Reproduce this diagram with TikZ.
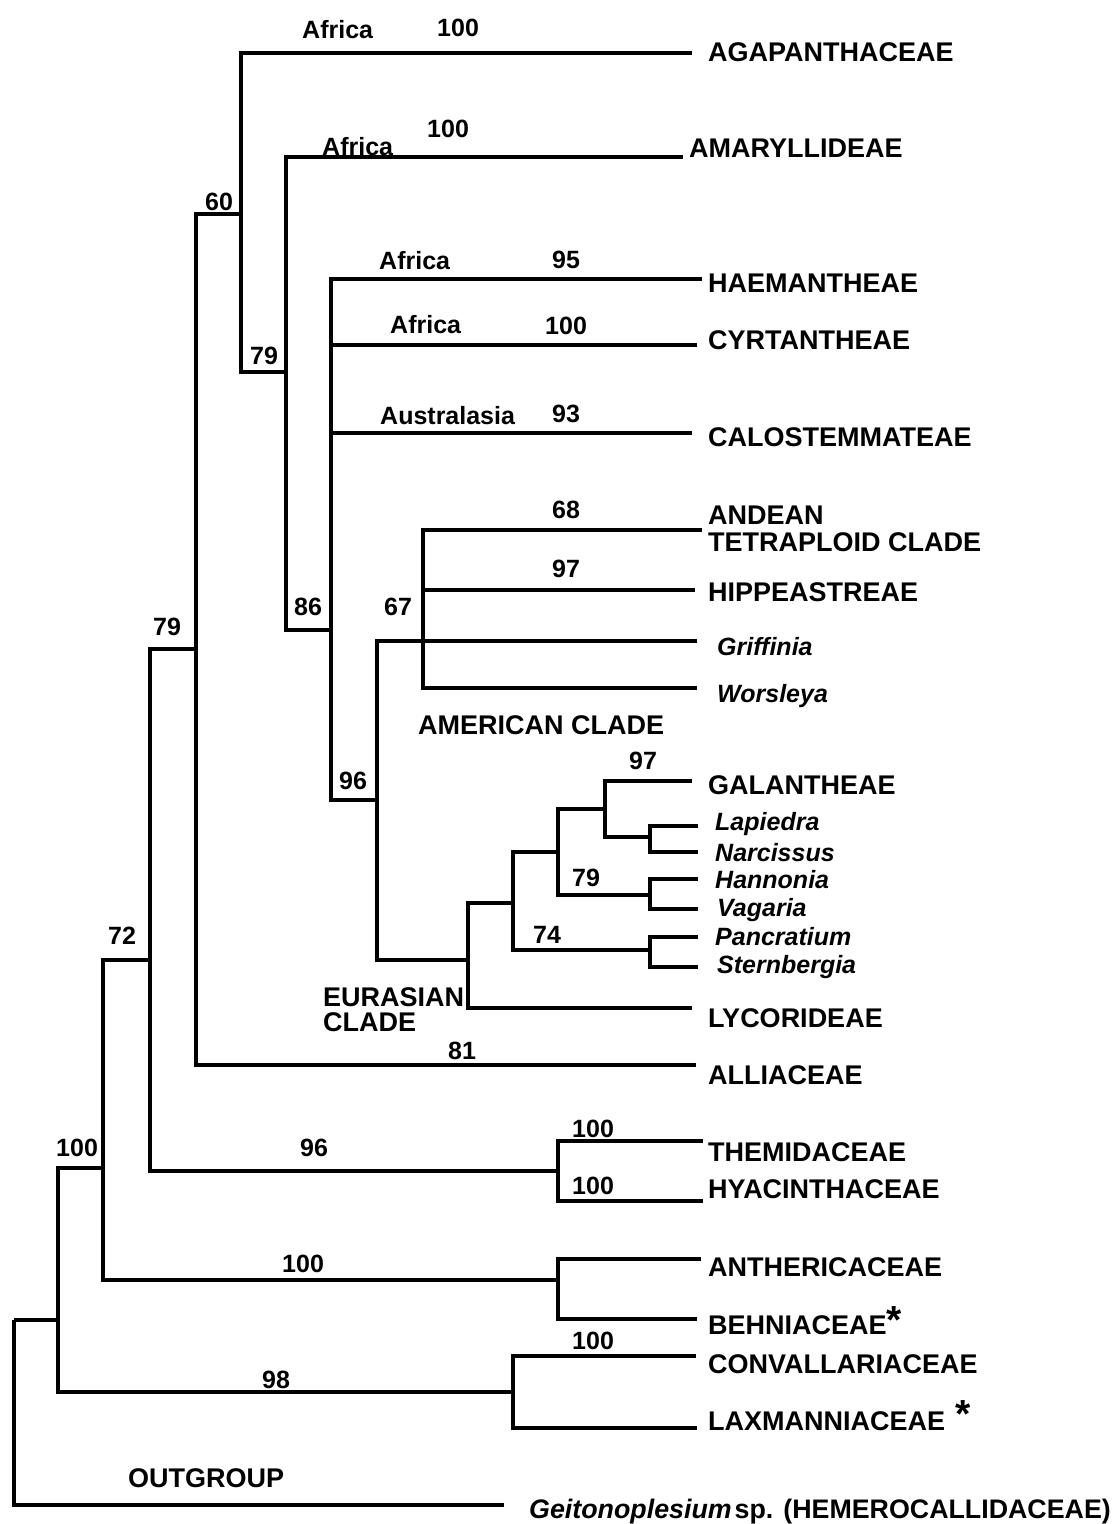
\documentclass[tikz,border=0pt]{standalone}
\usepackage{fontspec}
\setmainfont{Liberation Sans}
\begin{document}
\begin{tikzpicture}[x=1pt,y=-1pt,
  br/.style={line width=3.4pt},
  nm/.style={font=\fontsize{27}{30}\selectfont\bfseries, anchor=base west, inner sep=0pt},
  gn/.style={font=\fontsize{25}{28}\selectfont\bfseries\itshape, anchor=base west, inner sep=0pt},
  num/.style={font=\fontsize{25}{28}\selectfont\bfseries, anchor=base west, inner sep=0pt}]
\useasboundingbox (0,0) rectangle (1119,1524);

% internal nodes (vertical line x, incoming branch y)
\coordinate (root) at (14,1320);
\coordinate (n100a) at (58,1320);
\coordinate (n72) at (103,1168);
\coordinate (n79a) at (150,960);
\coordinate (nAl) at (196,649);
\coordinate (n60) at (241,214);
\coordinate (n79b) at (286,372);
\coordinate (n86) at (331,630);
\coordinate (n96) at (377,800);
\coordinate (nAm) at (423,641);
\coordinate (nEu) at (468,960);
\coordinate (nE1) at (513,903);
\coordinate (nE2) at (558,852);
\coordinate (n97) at (605,809);
\coordinate (nLN) at (650,837);
\coordinate (n79c) at (650,895);
\coordinate (n74) at (650,950);
\coordinate (n96t) at (558,1171);
\coordinate (n100b) at (558,1280);
\coordinate (n98) at (513,1392);

% leaf ends
\coordinate (lAgap) at (692,53);
\coordinate (lAmar) at (683,157);
\coordinate (lHaem) at (702,279);
\coordinate (lCyrt) at (697,345);
\coordinate (lCalo) at (692,433);
\coordinate (lAnde) at (702,530);
\coordinate (lHipp) at (695,590);
\coordinate (lGrif) at (697,641);
\coordinate (lWors) at (697,688);
\coordinate (lGala) at (692,781);
\coordinate (lLapi) at (698,826);
\coordinate (lNarc) at (698,852);
\coordinate (lHann) at (698,879);
\coordinate (lVaga) at (698,909);
\coordinate (lPanc) at (698,937);
\coordinate (lSter) at (698,967);
\coordinate (lLyco) at (692,1008);
\coordinate (lAlli) at (696,1065);
\coordinate (lThem) at (703,1141);
\coordinate (lHyac) at (703,1201);
\coordinate (lAnth) at (701,1259);
\coordinate (lBehn) at (697,1319);
\coordinate (lConv) at (696,1356);
\coordinate (lLaxm) at (697,1428);
\coordinate (lGeit) at (504,1505);

% branches
\foreach \p/\c in {root/n100a, root/lGeit, n100a/n72, n100a/n98, n72/n79a, n72/n100b,
  n79a/nAl, n79a/n96t, nAl/n60, nAl/lAlli, n60/lAgap, n60/n79b, n79b/lAmar, n79b/n86,
  n86/lHaem, n86/lCyrt, n86/lCalo, n86/n96, n96/nAm, n96/nEu,
  nAm/lAnde, nAm/lHipp, nAm/lGrif, nAm/lWors, nEu/nE1, nEu/lLyco,
  nE1/nE2, nE1/n74, nE2/n97, nE2/n79c, n97/lGala, n97/nLN,
  nLN/lLapi, nLN/lNarc, n79c/lHann, n79c/lVaga, n74/lPanc, n74/lSter,
  n96t/lThem, n96t/lHyac, n100b/lAnth, n100b/lBehn, n98/lConv, n98/lLaxm}
  \draw[br] (\p) |- (\c);

% support values and region labels
\node[num] (a1) at (302,38) {Africa};
\node[num] (b1) at (437,36) {100};
\node[num] (a2) at (322,155) {Africa};
\node[num] (b2) at (427,137) {100};
\node[num] (b3) at (205,210) {60};
\node[num] (a4) at (379,269) {Africa};
\node[num] (b4) at (552,268) {95};
\node[num] (a5) at (390,333) {Africa};
\node[num] (b5) at (545,334) {100};
\node[num] (b6) at (250,364) {79};
\node[num] (a7) at (380,424) {Australasia};
\node[num] (b7) at (552,422) {93};
\node[num] (b8) at (552,518) {68};
\node[num] (b9) at (552,577) {97};
\node[num] (b10) at (294,615) {86};
\node[num] (b11) at (384,615) {67};
\node[num] (b12) at (339,789) {96};
\node[num] (b13) at (629,769) {97};
\node[num] (b14) at (572,886) {79};
\node[num] (b15) at (533,943) {74};
\node[num] (b16) at (448,1059) {81};
\node[num] (b17) at (153,635) {79};
\node[num] (b18) at (108,944) {72};
\node[num] (b19) at (56,1156) {100};
\node[num] (b20) at (300,1156) {96};
\node[num] (b21) at (282,1272) {100};
\node[num] (b22) at (262,1388) {98};
\node[num] (b23) at (572,1137) {100};
\node[num] (b24) at (572,1194) {100};
\node[num] (b25) at (572,1349) {100};

% taxon names
\node[nm] (tAgap) at (708,61) {AGAPANTHACEAE};
\node[nm] (tAmar) at (689,157) {AMARYLLIDEAE};
\node[nm] (tHaem) at (708,292) {HAEMANTHEAE};
\node[nm] (tCyrt) at (708,349) {CYRTANTHEAE};
\node[nm] (tCalo) at (708,446) {CALOSTEMMATEAE};
\node[nm] (tAnd1) at (708,524) {ANDEAN};
\node[nm] (tAnd2) at (708,551) {TETRAPLOID CLADE};
\node[nm] (tHipp) at (708,601) {HIPPEASTREAE};
\node[gn] (tGrif) at (717,655) {Griffinia};
\node[gn] (tWors) at (717,702) {Worsleya};
\node[nm] (tAmer) at (418,734) {AMERICAN CLADE};
\node[nm] (tGala) at (708,794) {GALANTHEAE};
\node[gn] (tLapi) at (715,830) {Lapiedra};
\node[gn] (tNarc) at (715,861) {Narcissus};
\node[gn] (tHann) at (715,888) {Hannonia};
\node[gn] (tVaga) at (717,916) {Vagaria};
\node[gn] (tPanc) at (715,945) {Pancratium};
\node[gn] (tSter) at (717,973) {Sternbergia};
\node[nm] (tEur1) at (323,1006) {EURASIAN};
\node[nm] (tEur2) at (323,1031) {CLADE};
\node[nm] (tLyco) at (708,1027) {LYCORIDEAE};
\node[nm] (tAlli) at (708,1084) {ALLIACEAE};
\node[nm] (tThem) at (708,1161) {THEMIDACEAE};
\node[nm] (tHyac) at (708,1198) {HYACINTHACEAE};
\node[nm] (tAnth) at (708,1276) {ANTHERICACEAE};
\node[nm] (tBehn) at (708,1334) {BEHNIACEAE\raisebox{1pt}{\scalebox{1.45}{*}}};
\node[nm] (tConv) at (708,1373) {CONVALLARIACEAE};
\node[nm] (tLaxm) at (708,1430) {LAXMANNIACEAE\hspace{10pt}\raisebox{3pt}{\scalebox{1.45}{*}}};
\node[nm] (tOut) at (128,1487) {OUTGROUP};
\node[nm, font=\fontsize{26.8}{30}\selectfont\bfseries] (tGeit) at (529,1518) {\textit{Geitonoplesium}\hspace{3pt}sp. (HEMEROCALLIDACEAE)};
\end{tikzpicture}
\end{document}
